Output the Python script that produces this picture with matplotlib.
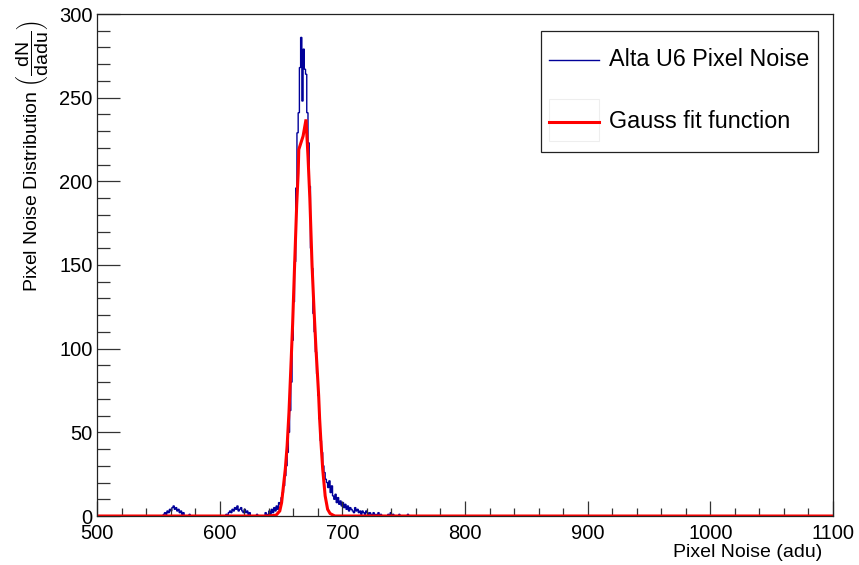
import numpy as np
import matplotlib
matplotlib.use("Agg")
import matplotlib.pyplot as plt
from matplotlib.ticker import MultipleLocator
from matplotlib.patches import Rectangle

plt.rcParams['font.family'] = ['Liberation Sans', 'DejaVu Sans']
plt.rcParams['mathtext.fontset'] = 'custom'
plt.rcParams['mathtext.rm'] = 'Liberation Sans'
plt.rcParams['mathtext.it'] = 'Liberation Sans:italic'

# histogram: 1 adu bins, 500..1100; nonzero counts start at bin_start
hist_lo, hist_hi = 500, 1100
bin_start = 553
counts_read = [
    0, 1, 2, 1, 3, 2, 4, 3, 5, 6, 4, 5, 3, 4, 2, 3, 1, 2,          # 553-570
    0, 0, 0, 0, 1, 0,                                             # 571-576
    0, 0, 0, 0, 0, 0, 0, 0, 0, 0, 0, 0, 0, 0, 0, 0, 0, 0, 0, 0,   # 577-596
    0, 0, 0, 0, 0, 0, 0, 0,                                       # 597-604
    1, 0, 2, 3, 2, 4, 3, 5, 4, 6, 3, 4, 5, 3, 2, 4, 2, 3, 1, 2,   # 605-624
    0, 0, 0, 0, 0, 1, 0, 0, 0, 0, 0, 0, 2, 0, 1,                  # 625-639
    3, 1, 4, 2, 5, 3, 6, 4, 8, 7, 11, 14, 18, 24, 30, 38, 50,     # 640-656
    63, 80, 105, 128, 152, 196, 229, 241, 268, 286, 248, 279,     # 657-668
    267, 264, 241, 223, 197, 160, 148, 121, 110, 98, 85, 72,      # 669-680
    58, 45, 38, 30, 26, 22, 20, 17, 21, 14, 18, 12, 10, 13, 8,    # 681-695
    11, 7, 9, 6, 8, 5, 7, 4, 6, 3, 5, 4, 3, 2, 5, 3, 4, 2, 3,     # 696-714
    1, 3, 2, 1, 3, 2, 1, 2, 1, 0, 2, 1, 0, 1, 2, 0, 1,            # 715-731
    0, 0, 0, 0, 0, 1, 0, 2, 0, 1, 0, 0, 0, 0, 1, 0, 0, 0, 0, 0,   # 732-751
    0, 1,                                                          # 752-753
]

# Gauss fit curve as drawn (x, y)
fit_x = [500, 640, 646, 649, 650.5, 652, 653.5, 655, 656.5, 658, 659.5, 661,
         662.8, 664, 664.5, 668, 670.4, 672, 673.5, 675.3, 677, 678.5, 679.7,
         680.7, 681.5, 682.5, 684, 686, 688, 690, 692.5, 694, 1100]
fit_y = [0, 0, 0.5, 3, 8, 18, 28, 42, 62, 88, 115, 148,
         186, 205, 219, 227, 237, 215, 190, 150, 122, 100, 85,
         72, 58, 45, 28, 12, 4, 1.5, 0.5, 0, 0]

hist_label = "Alta U6 Pixel Noise"
fit_label = "Gauss fit function"

edges = np.arange(hist_lo, hist_hi + 1)
counts = np.zeros(hist_hi - hist_lo)
counts[bin_start - hist_lo:bin_start - hist_lo + len(counts_read)] = counts_read

fig = plt.figure(figsize=(8.59, 5.65), dpi=100)
ax = fig.add_axes([97 / 859, 1 - 516 / 565, 736 / 859, 502 / 565])

blue = '#000099'
ax.stairs(counts, edges, color=blue, lw=1.0, baseline=None)
ax.plot(fit_x, fit_y, color='#ff0000', lw=2.2, solid_joinstyle='miter')

ax.set_xlim(500, 1100)
ax.set_ylim(0, 300)
ax.xaxis.set_major_locator(MultipleLocator(100))
ax.xaxis.set_minor_locator(MultipleLocator(20))
ax.yaxis.set_major_locator(MultipleLocator(50))
ax.yaxis.set_minor_locator(MultipleLocator(10))
ax.tick_params(axis='both', which='both', direction='in', labelsize=14.5,
               color='#333333', width=0.9)
ax.tick_params(axis='y', which='major', length=16.5, pad=3)
ax.tick_params(axis='y', which='minor', length=9.3)
ax.tick_params(axis='x', which='major', length=10.5, pad=6)
ax.tick_params(axis='x', which='minor', length=5.8)
for s in ax.spines.values():
    s.set_linewidth(0.9)
    s.set_color('#222222')

ax.text(0.985, -0.073, "Pixel Noise (adu)", transform=ax.transAxes,
        ha='right', va='center', fontsize=14, zorder=6)
ax.text(-0.087, 0.988, r"Pixel Noise Distribution $\left(\dfrac{\mathrm{dN}}{\mathrm{dadu}}\right)$",
        transform=ax.transAxes, rotation=90, ha='center', va='top', fontsize=14)

# legend box (ROOT style)
lx0, lx1 = (541 - 97) / 736, (818 - 97) / 736
ly0, ly1 = (516 - 152) / 502, (516 - 31) / 502
ax.add_patch(Rectangle((lx0, ly0), lx1 - lx0, ly1 - ly0, transform=ax.transAxes,
                       facecolor='white', edgecolor='#222222', lw=0.9, zorder=5))
hx0, hx1 = (549 - 97) / 736, (599 - 97) / 736
tx = (609 - 97) / 736
r1 = (516 - 60) / 502
r2 = (516 - 122) / 502
ax.plot([hx0, hx1], [r1, r1], transform=ax.transAxes, color=blue, lw=1.0, zorder=6)
ax.text(tx, r1, hist_label, transform=ax.transAxes, ha='left', va='center',
        fontsize=16.8, zorder=6)
ax.add_patch(Rectangle((hx0, (516 - 141) / 502), hx1 - hx0, 42 / 502,
                       transform=ax.transAxes, facecolor='none',
                       edgecolor='#eeeeee', lw=0.8, zorder=6))
ax.plot([hx0, hx1], [r2, r2], transform=ax.transAxes, color='#ff0000', lw=2.2, zorder=6)
ax.text(tx, r2, fit_label, transform=ax.transAxes, ha='left', va='center',
        fontsize=16.8, zorder=6)

fig.savefig('out.png', dpi=100)
